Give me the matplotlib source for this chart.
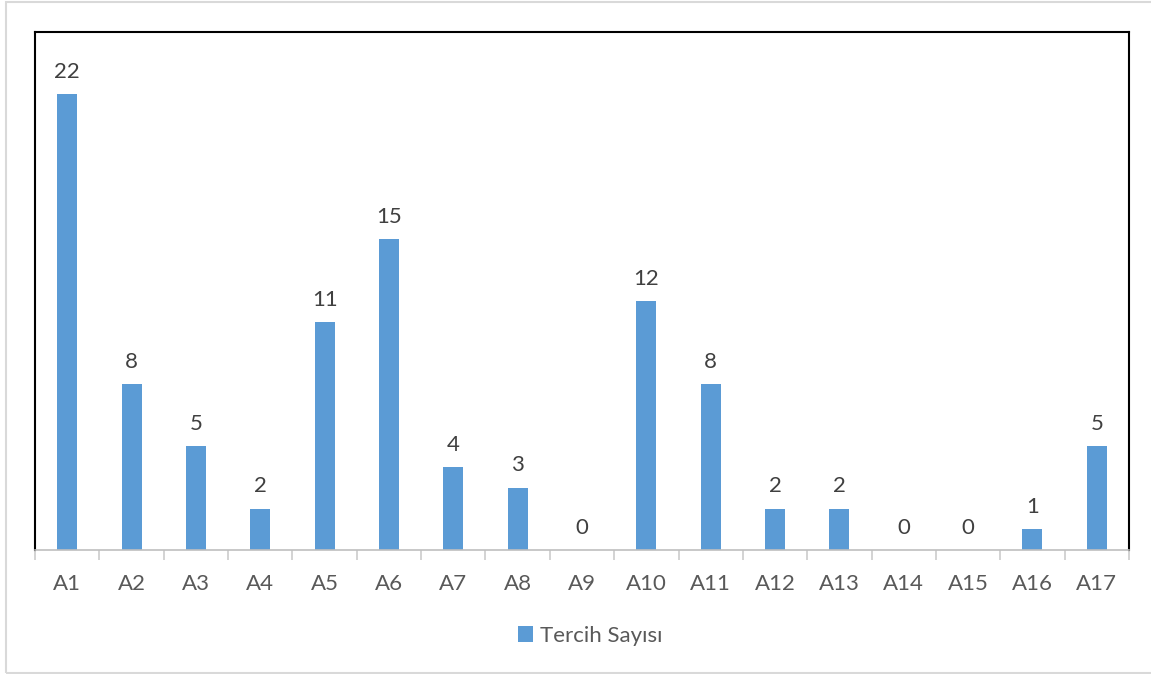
import matplotlib
matplotlib.use("Agg")
import matplotlib.pyplot as plt
from matplotlib.patches import Rectangle

categories = ["A1", "A2", "A3", "A4", "A5", "A6", "A7", "A8", "A9", "A10",
              "A11", "A12", "A13", "A14", "A15", "A16", "A17"]
values = [22, 8, 5, 2, 11, 15, 4, 3, 0, 12, 8, 2, 2, 0, 0, 1, 5]
series_name = "Tercih Sayısı"

plt.rcParams['font.family'] = ['Lato', 'DejaVu Sans']
FS = 16

W, H = 1151, 674
fig = plt.figure(figsize=(W / 100, H / 100), dpi=100)
fig.patches.append(Rectangle((6 / W, 1 / H), 1.2, (H - 3) / H, transform=fig.transFigure,
                             fill=False, edgecolor='#D9D9D9', linewidth=1.5))

ax = fig.add_axes([35 / W, (H - 550) / H, (1129 - 35) / W, (550 - 32) / H])
x = list(range(len(categories)))
bars = ax.bar(x, values, width=0.31, color='#5B9BD5', label=series_name, zorder=2)
for xi, v in zip(x, values):
    ax.text(xi, v + 0.6, str(v), ha='center', va='bottom', fontsize=FS, color='#404040')

ax.set_xlim(-0.5, len(categories) - 0.5)
ax.set_ylim(0, 25)
ax.set_yticks([])
ax.set_xticks(x)
ax.set_xticklabels(categories, fontsize=FS, color='#595959')
ax.tick_params(axis='x', length=0, pad=17)
# category boundary ticks
ax.set_xticks([i - 0.5 for i in range(len(categories) + 1)], minor=True)
ax.tick_params(axis='x', which='minor', length=7, color='#D0D0D0', width=1.3)

for side in ['left', 'top', 'right']:
    ax.spines[side].set_color('black')
    ax.spines[side].set_linewidth(1.5)
ax.spines['bottom'].set_color('#BFBFBF')
ax.spines['bottom'].set_linewidth(1.2)

leg = fig.legend(handles=[bars], labels=[series_name], loc='center',
                 bbox_to_anchor=(590 / W, 1 - 636 / H), frameon=False,
                 fontsize=FS, handlelength=0.7, handleheight=0.7, handletextpad=0.3)
for t in leg.get_texts():
    t.set_color('#595959')

fig.savefig("out.png", dpi=100)
